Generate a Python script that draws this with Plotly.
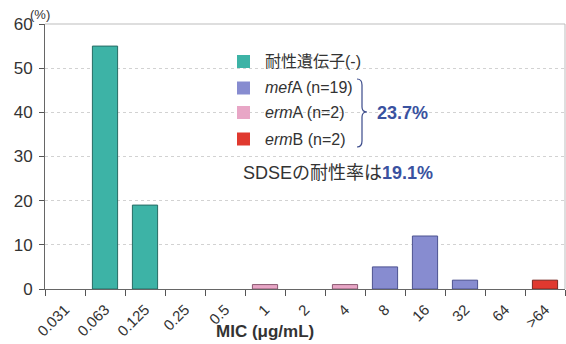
import plotly.graph_objects as go

categories = ["0.031", "0.063", "0.125", "0.25", "0.5", "1", "2", "4", "8", "16", "32", "64", ">64"]
gene_neg = [None, 55, 19, None, None, None, None, None, None, None, None, None, None]
mefA = [None, None, None, None, None, None, None, None, 5, 12, 2, None, None]
ermA = [None, None, None, None, None, 1, None, 1, None, None, None, None, None]
ermB = [None, None, None, None, None, None, None, None, None, None, None, None, 2]

legend_labels = ["耐性遺伝子(-)", "<i>mef</i>A (n=19)", "<i>erm</i>A (n=2)", "<i>erm</i>B (n=2)"]
total_label = "23.7%"
rate_text = "SDSEの耐性率は<b><span style='color:#3a52a0'>19.1%</span></b>"
x_title = "<b>MIC (μg/mL)</b>"
y_unit = "(%)"

W, H = 566, 344
L, R, T, B = 45, 1, 24, 55
PW, PH = W - L - R, H - T - B


def px(x):
    return (x - L) / PW


def py(y):
    return (H - B - y) / PH


fills = ["#3db3a6", "#878cd0", "#e8a6c6", "#e0392f"]
lines = ["#276c64", "#4d5290", "#8a5870", "#7a2820"]
series = [gene_neg, mefA, ermA, ermB]

FONT = "Liberation Sans, Arial, Noto Sans CJK JP, sans-serif"

fig = go.Figure()
for vals, fc, lc, name in zip(series, fills, lines, legend_labels):
    fig.add_trace(go.Bar(
        x=categories, y=vals, name=name, width=0.63,
        marker=dict(color=fc, line=dict(color=lc, width=1)),
        showlegend=False, hoverinfo="skip",
    ))

shapes = []
annotations = []
# frame top/right
shapes.append(dict(type="line", xref="paper", yref="paper", x0=0, x1=1, y0=1, y1=1,
                   line=dict(color="#bdbdbd", width=1)))
shapes.append(dict(type="line", xref="paper", yref="paper", x0=1, x1=1, y0=0, y1=1,
                   line=dict(color="#bdbdbd", width=1)))

# manual legend
leg_y = [61.5, 88, 112.5, 139]
for yy, fc, name in zip(leg_y, fills, legend_labels):
    shapes.append(dict(type="rect", xref="paper", yref="paper",
                       x0=px(237), x1=px(250), y0=py(yy + 6.5), y1=py(yy - 6.5),
                       fillcolor=fc, line=dict(width=0)))
    annotations.append(dict(text=name, xref="paper", yref="paper", x=px(263), y=py(yy),
                            xanchor="left", yanchor="middle", showarrow=False,
                            font=dict(size=16, color="#333333", family=FONT)))

# brace
bx0, bx1, bxm = 357, 367, 362
by0, bym, by1 = 79, 112, 147
path = (f"M {px(bx0)},{py(by0)} Q {px(bxm)},{py(by0)} {px(bxm)},{py(by0+6)} "
        f"L {px(bxm)},{py(bym-5)} Q {px(bxm)},{py(bym)} {px(bx1)},{py(bym)} "
        f"Q {px(bxm)},{py(bym)} {px(bxm)},{py(bym+5)} "
        f"L {px(bxm)},{py(by1-6)} Q {px(bxm)},{py(by1)} {px(bx0)},{py(by1)}")
shapes.append(dict(type="path", xref="paper", yref="paper", path=path,
                   line=dict(color="#3a4a8a", width=1.2)))

annotations.append(dict(text=f"<b>{total_label}</b>", xref="paper", yref="paper",
                        x=px(375), y=py(113), xanchor="left", yanchor="middle",
                        showarrow=False, font=dict(size=18, color="#3a52a0", family=FONT)))
annotations.append(dict(text=rate_text, xref="paper", yref="paper",
                        x=px(241), y=py(173), xanchor="left", yanchor="middle",
                        showarrow=False, font=dict(size=18, color="#333333", family=FONT)))
annotations.append(dict(text=x_title, xref="paper", yref="paper",
                        x=px(265), y=py(331), xanchor="center", yanchor="middle",
                        showarrow=False, font=dict(size=17, color="#333333", family=FONT)))
annotations.append(dict(text=y_unit, xref="paper", yref="paper",
                        x=px(40), y=py(14), xanchor="center", yanchor="middle",
                        showarrow=False, font=dict(size=13, color="#333333", family=FONT)))

fig.update_layout(
    width=W, height=H,
    margin=dict(l=L, r=R, t=T, b=B, autoexpand=False),
    paper_bgcolor="white", plot_bgcolor="white",
    barmode="overlay",
    font=dict(family=FONT, color="#333333"),
    shapes=shapes, annotations=annotations,
    xaxis=dict(type="category", categoryorder="array", categoryarray=categories,
               tickson="boundaries", ticks="outside", ticklen=6, tickcolor="#555555",
               showline=True, linecolor="#666666", linewidth=1,
               tickangle=-45, tickfont=dict(size=15, color="#333333"),
               ticklabelstandoff=5,
               showgrid=False, range=[-0.5, 12.5], automargin=False),
    yaxis=dict(range=[0, 60], dtick=10, ticks="outside", ticklen=5, tickcolor="#555555",
               showline=True, linecolor="#666666", linewidth=1,
               showgrid=True, gridcolor="#d2d2d2", griddash="dot", gridwidth=1,
               zeroline=False, tickfont=dict(size=17, color="#333333"),
               ticklabelstandoff=3, automargin=False),
)

fig.write_html("out.html", config={"displayModeBar": False},
               post_script="document.body.style.margin='0';document.body.style.overflow='hidden';")
